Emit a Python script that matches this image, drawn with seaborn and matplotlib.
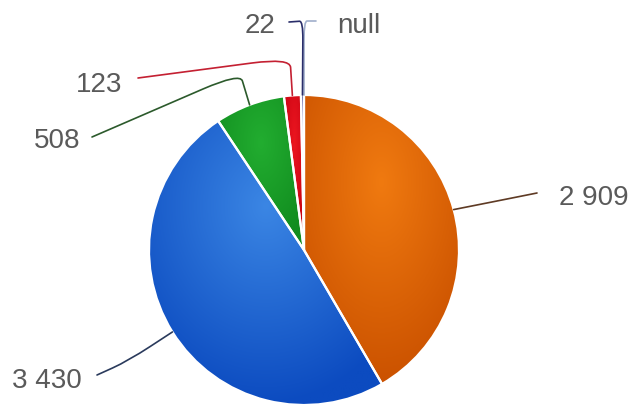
import numpy as np
import matplotlib
matplotlib.use("Agg")
import matplotlib.pyplot as plt
import seaborn as sns
from matplotlib.path import Path
from matplotlib.patches import PathPatch
from matplotlib.colors import to_rgb

# ---- data (clockwise from 12 o'clock) ----
values = [2909, 3430, 508, 123, 22, 0]
labels = ["2 909", "3 430", "508", "123", "22", "null"]
light_colors = ["#f07a10", "#3b86e4", "#22ad30", "#ec1620", "#3d42a0", "#9aa8c8"]
dark_colors = ["#cb5200", "#0c4bc0", "#118c1f", "#c20010", "#24286e", "#7a88a8"]
line_colors = ["#5e3a24", "#2a3a5c", "#2c5a2c", "#c42032", "#2a2e6a", "#a0aecb"]

sns.set_theme(style="white")
plt.rcParams["font.family"] = ["Liberation Sans", "DejaVu Sans"]

W, H = 636, 411
fig = plt.figure(figsize=(W / 100, H / 100), dpi=100)
ax = fig.add_axes([0, 0, 1, 1])

cx, cy = 304, H - 250
R = 155

palette = sns.color_palette(light_colors)
wedges, _ = ax.pie(values, colors=palette, startangle=90, counterclock=False,
                   center=(cx, cy), radius=R,
                   wedgeprops=dict(edgecolor="white", linewidth=1.6))

# radial gradient fill per slice (Highcharts-like: cx .5, cy .3, r .7 of bbox)
for w, c0, c1 in zip(wedges, light_colors, dark_colors):
    ext = w.get_path().get_extents()
    x0, x1, y0, y1 = ext.x0, ext.x1, ext.y0, ext.y1
    if x1 - x0 < 0.5 or y1 - y0 < 0.5:
        continue
    nx, ny = 120, 120
    xs = np.linspace(x0, x1, nx)
    ys = np.linspace(y1, y0, ny)
    X, Y = np.meshgrid(xs, ys)
    gx = x0 + 0.5 * (x1 - x0)
    gy = y1 - 0.3 * (y1 - y0)
    d = np.sqrt(((X - gx) / (0.7 * (x1 - x0))) ** 2 + ((Y - gy) / (0.7 * (y1 - y0))) ** 2)
    d = np.clip(d, 0, 1)[..., None]
    img = np.array(to_rgb(c0)) * (1 - d) + np.array(to_rgb(c1)) * d
    im = ax.imshow(img, extent=[x0, x1, y0, y1], origin="upper", zorder=2,
                   interpolation="bilinear", aspect="auto")
    im.set_clip_path(w)
    w.set_facecolor("none")
    w.set_zorder(3)

# ---- labels & connectors ----
total = float(sum(values))
cum = np.cumsum([0] + values[:-1])
mid_angles = [np.deg2rad(360.0 * (c + v / 2.0) / total) for c, v in zip(cum, values)]
anchors = [(cx + R * np.sin(a), cy + R * np.cos(a)) for a in mid_angles]

# layout (pixel coords, y downward): elbow, connector end, text pos, ha, curve frac
layout = {
    "2 909": ((497, 201), (537, 193), (559, 205), "left", 0.5),
    "3 430": ((128, 361), (97, 375), (82, 388), "right", 0.5),
    "508": ((240, 73), (92, 137), (80, 148), "right", 0.25),
    "123": ((290, 58), (138, 78), (122, 92), "right", 0.25),
    "22": ((303, 21), (289, 22), (275, 33), "right", 0.25),
    "null": ((304, 21), (316, 21), (337, 33), "left", 0.25),
}

order = [5, 0, 1, 2, 3, 4]
for i in order:
    lab = labels[i]
    (ex, ey), (tx, ty), (px, py), ha, f = layout[lab]
    ax0, ay0 = anchors[i]
    ey, ty = H - ey, H - ty
    sx = ax0 + (ex - ax0) * (1 - f)
    sy = ay0 + (ey - ay0) * (1 - f)
    qx = ex + (tx - ex) * f
    qy = ey + (ty - ey) * f
    verts = [(ax0, ay0), (sx, sy), (ex, ey), (qx, qy), (tx, ty)]
    codes = [Path.MOVETO, Path.LINETO, Path.CURVE3, Path.CURVE3, Path.LINETO]
    ax.add_patch(PathPatch(Path(verts, codes), facecolor="none",
                           edgecolor=line_colors[i], linewidth=1.2, zorder=4,
                           capstyle="round", joinstyle="round"))
    ax.text(px, H - py, lab, ha=ha, va="baseline", fontsize=20,
            color="#5a5a5a", zorder=5)

ax.set_xlim(0, W)
ax.set_ylim(0, H)
ax.set_aspect("auto")
ax.axis("off")
fig.savefig("out.png", dpi=100, facecolor="white")
